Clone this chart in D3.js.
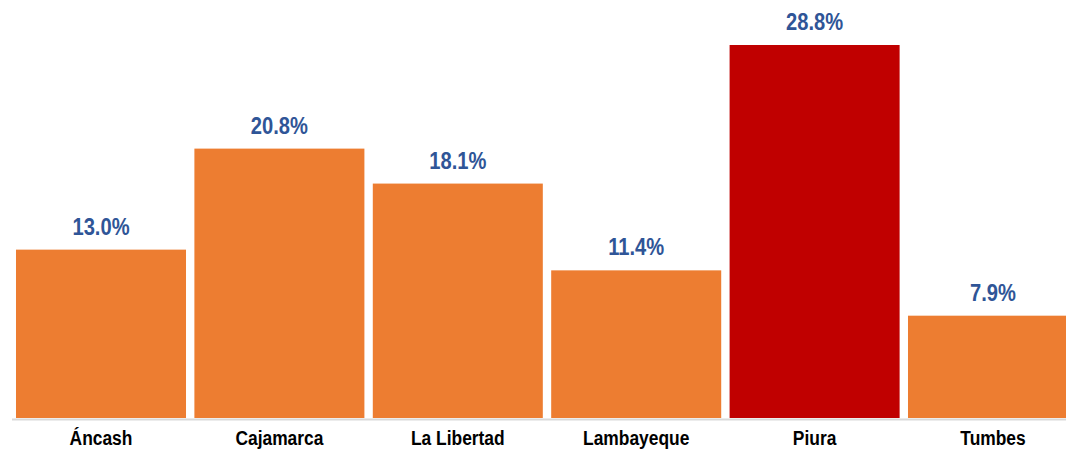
<!DOCTYPE html>
<html>
<head>
<meta charset="utf-8">
<script src="https://cdn.jsdelivr.net/npm/d3@7"></script>
<style>
  body { margin: 0; background: #fff; }
  svg { display: block; }
</style>
</head>
<body>
<div id="chart"></div>
<script>
// datos por región
const regions = ['Áncash', 'Cajamarca', 'La Libertad', 'Lambayeque', 'Piura', 'Tumbes'];
const values = [13.0, 20.8, 18.1, 11.4, 28.8, 7.9];
const highlight = ['Piura'];

const width = 1066, height = 449;
const baseY = 418;
const fontStack = '"Liberation Sans Narrow", "Arial Narrow", "Liberation Sans", Arial, sans-serif';

const svg = d3.select('#chart')
  .append('svg')
  .attr('width', width)
  .attr('height', height);

// el área del gráfico se sale un poco por la derecha (Tumbes recortado)
const x = d3.scaleBand()
  .domain(regions)
  .range([11.8, 1082.2])
  .paddingInner(0.047)
  .paddingOuter(0.0235);

const y = d3.scaleLinear()
  .domain([0, 28.8])
  .range([baseY, 45]);

// barras
svg.append('g')
  .selectAll('rect')
  .data(regions)
  .join('rect')
  .attr('x', d => x(d))
  .attr('y', (d, i) => y(values[i]))
  .attr('width', x.bandwidth())
  .attr('height', (d, i) => baseY - y(values[i]))
  .attr('fill', d => highlight.includes(d) ? '#C00000' : '#ED7D31');

// línea base
svg.append('line')
  .attr('x1', 12).attr('x2', width)
  .attr('y1', baseY + 1.5).attr('y2', baseY + 1.5)
  .attr('stroke', '#D9D9D9')
  .attr('stroke-width', 2);

// etiquetas de valores (fuente estrecha simulada con scale)
svg.append('g')
  .selectAll('text')
  .data(regions)
  .join('text')
  .attr('transform', (d, i) => `translate(${x(d) + x.bandwidth() / 2},${y(values[i]) - 15}) scale(0.84,1)`)
  .attr('text-anchor', 'middle')
  .attr('fill', '#2F5597')
  .style('font', `bold 24px ${fontStack}`)
  .text((d, i) => values[i].toFixed(1) + '%');

// etiquetas de categorías
svg.append('g')
  .selectAll('text')
  .data(regions)
  .join('text')
  .attr('transform', d => `translate(${x(d) + x.bandwidth() / 2},445) scale(0.87,1)`)
  .attr('text-anchor', 'middle')
  .attr('fill', '#000')
  .style('font', `bold 20px ${fontStack}`)
  .text(d => d);
</script>
</body>
</html>
